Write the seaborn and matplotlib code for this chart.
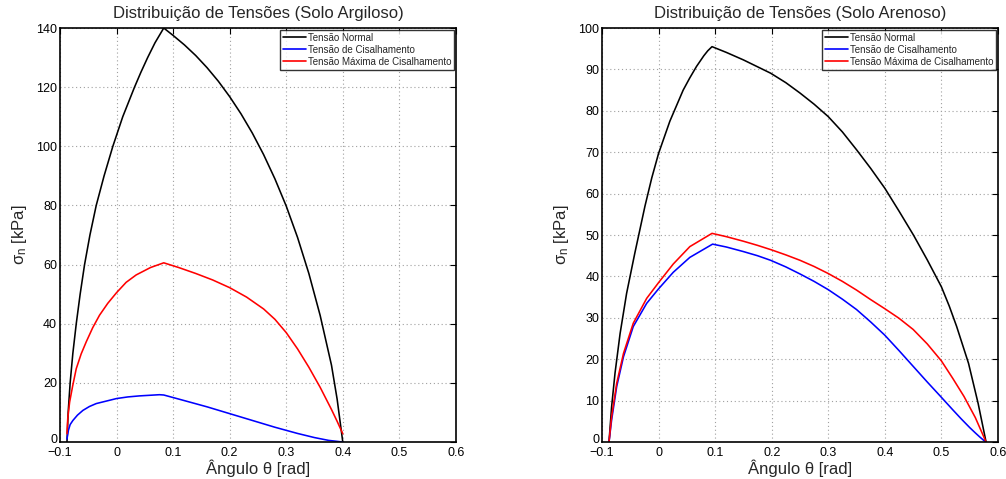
import numpy as np
import pandas as pd
import matplotlib
matplotlib.use("Agg")
import matplotlib.pyplot as plt
import matplotlib.transforms as mtransforms
import seaborn as sns

# ---------------- data ----------------
titles = ["Distribuição de Tensões (Solo Argiloso)", "Distribuição de Tensões (Solo Arenoso)"]
series_names = ["Tensão Normal", "Tensão de Cisalhamento", "Tensão Máxima de Cisalhamento"]
series_colors = ["#000000", "#0000ff", "#ff0000"]

# Solo Argiloso
arg_normal_x = [-0.0876, -0.0855, -0.082, -0.0772, -0.0712, -0.0643, -0.0565, -0.047, -0.0359, -0.022,
                -0.0065, 0.011, 0.0318, 0.043, 0.055, 0.068, 0.0835,
                0.10, 0.12, 0.14, 0.16, 0.18, 0.20, 0.22, 0.24, 0.26, 0.28, 0.30, 0.32, 0.34, 0.36,
                0.38, 0.39, 0.40]
arg_normal_y = [0, 10, 20, 30, 40, 50, 60, 70, 80, 90,
                100, 110, 120, 125, 130, 135, 140,
                137.5, 134.3, 130.7, 126.6, 122.0, 116.8, 111.0, 104.5, 97.2, 89.0, 79.8, 69.2, 57.0, 42.8,
                26.0, 14.5, 0]
arg_shear_x = [-0.0876, -0.085, -0.082, -0.0771, -0.069, -0.0594, -0.048, -0.0359, 0.0, 0.02, 0.0406,
               0.0759, 0.0835, 0.12, 0.16, 0.20, 0.24, 0.28, 0.32, 0.35, 0.375, 0.40]
arg_shear_y = [1.0, 4.0, 5.9, 7.3, 9.1, 10.7, 12.0, 13.0, 14.7, 15.25, 15.6,
               16.0, 15.9, 14.0, 11.9, 9.6, 7.3, 5.0, 2.9, 1.5, 0.55, 0]
arg_max_x = [-0.0876, -0.0862, -0.0829, -0.0775, -0.0712, -0.0625, -0.0535, -0.042, -0.030, -0.0155,
             0.0, 0.017, 0.0347, 0.06, 0.0835,
             0.11, 0.14, 0.17, 0.20, 0.23, 0.26, 0.28, 0.30, 0.32, 0.34, 0.36, 0.38, 0.39, 0.40]
arg_max_y = [2.8, 8.0, 13.5, 19.0, 24.8, 29.8, 33.9, 38.7, 42.9, 46.9,
             50.5, 54.0, 56.5, 59.0, 60.6,
             59.0, 57.0, 54.8, 52.2, 49.0, 45.0, 41.5, 37.0, 31.5, 25.3, 18.5, 11.0, 7.0, 2.8]

# Solo Arenoso
are_normal_x = [-0.0876, -0.083, -0.077, -0.068, -0.0565, -0.042, -0.024, -0.012, 0.0, 0.02, 0.0435,
                0.055, 0.067, 0.08, 0.087, 0.0945,
                0.12, 0.15, 0.198, 0.225, 0.25, 0.275, 0.30, 0.325, 0.35, 0.375, 0.40, 0.425, 0.4506,
                0.475, 0.50, 0.514, 0.527, 0.548, 0.565, 0.579]
are_normal_y = [0, 8.5, 16.6, 26.2, 35.9, 45.6, 57.0, 63.8, 69.7, 77.5, 85.0,
                87.9, 90.7, 93.3, 94.5, 95.5,
                94.1, 92.3, 89.1, 86.8, 84.3, 81.6, 78.6, 74.9, 70.6, 66.1, 61.3, 55.8, 50.0,
                44.0, 37.5, 32.8, 27.9, 19.0, 9.3, 0]
are_shear_x = [-0.0876, -0.083, -0.074, -0.062, -0.0447, -0.021, 0.0, 0.026, 0.0553, 0.0955,
               0.12, 0.15, 0.175, 0.198, 0.225, 0.25, 0.275, 0.30, 0.325, 0.35, 0.375, 0.40,
               0.425, 0.45, 0.475, 0.50, 0.52, 0.535, 0.55, 0.56, 0.568, 0.574, 0.579]
are_shear_y = [0, 5.3, 13.4, 20.6, 27.9, 33.5, 37.0, 41.0, 44.6, 47.8,
               47.1, 46.0, 45.0, 43.9, 42.3, 40.6, 38.8, 36.8, 34.5, 32.0, 29.0, 25.8,
               22.1, 18.3, 14.5, 10.8, 7.8, 5.6, 3.5, 2.2, 1.2, 0.5, 0]
are_max_x = [-0.0876, -0.083, -0.074, -0.062, -0.0447, -0.021, 0.0, 0.026, 0.0553, 0.0945,
             0.12, 0.15, 0.175, 0.20, 0.225, 0.25, 0.275, 0.30, 0.325, 0.35, 0.375, 0.40,
             0.425, 0.45, 0.475, 0.50, 0.52, 0.54, 0.56, 0.579]
are_max_y = [0, 6.1, 14.2, 21.4, 28.7, 34.7, 38.5, 43.0, 47.2, 50.4,
             49.6, 48.5, 47.5, 46.4, 45.2, 43.9, 42.4, 40.7, 38.8, 36.7, 34.4, 32.2,
             29.9, 27.2, 23.7, 19.6, 15.4, 11.0, 5.9, 0]

x_ticks = [-0.1, 0, 0.1, 0.2, 0.3, 0.4, 0.5, 0.6]
x_tick_labels = ["\u22120.1", "0", "0.1", "0.2", "0.3", "0.4", "0.5", "0.6"]
y_ticks_left = [0, 20, 40, 60, 80, 100, 120, 140]
y_ticks_right = [0, 10, 20, 30, 40, 50, 60, 70, 80, 90, 100]

xlabel = "Ângulo θ [rad]"
ylabel = r"$\sigma_{\mathrm{n}}$ [kPa]"


def make_df(xs, ys):
    rows = []
    for name, x, y in zip(series_names, xs, ys):
        for xi, yi in zip(x, y):
            rows.append({"x": xi, "y": yi, "serie": name})
    return pd.DataFrame(rows)


df_arg = make_df([arg_normal_x, arg_shear_x, arg_max_x], [arg_normal_y, arg_shear_y, arg_max_y])
df_are = make_df([are_normal_x, are_shear_x, are_max_x], [are_normal_y, are_shear_y, are_max_y])

# ---------------- style ----------------
sns.set_style("white")
plt.rcParams["font.family"] = ["Liberation Sans", "DejaVu Sans"]
plt.rcParams["mathtext.fontset"] = "custom"
plt.rcParams["mathtext.rm"] = "Liberation Sans"
plt.rcParams["mathtext.it"] = "Liberation Sans:italic"
plt.rcParams["mathtext.default"] = "regular"
plt.rcParams["axes.unicode_minus"] = True

fig = plt.figure(figsize=(10.06, 4.79), dpi=100)
ax1 = fig.add_axes([0.0596, 0.0772, 0.3936, 0.8643])
ax2 = fig.add_axes([0.5984, 0.0772, 0.3936, 0.8643])

palette = dict(zip(series_names, series_colors))

for ax, df, title, yt in [(ax1, df_arg, titles[0], y_ticks_left), (ax2, df_are, titles[1], y_ticks_right)]:
    sns.lineplot(data=df, x="x", y="y", hue="serie", hue_order=series_names, palette=palette,
                 sort=False, estimator=None, linewidth=1.15, ax=ax)
    ax.set_xlim(-0.1, 0.6)
    ax.set_ylim(yt[0], yt[-1])
    ax.set_xticks(x_ticks)
    ax.set_xticklabels(x_tick_labels)
    ax.set_yticks(yt)
    ax.set_yticklabels([str(v) for v in yt])
    ax.tick_params(direction="in", top=True, right=True, labelsize=9, length=4, width=0.8,
                   colors="black")
    ax.tick_params(axis="x", pad=3.5)
    ax.tick_params(axis="y", pad=2)
    # lift the bottom "0" slightly so it just sits above the "-0.1" label
    zero_lbl = ax.get_yticklabels()[0]
    zero_lbl.set_transform(zero_lbl.get_transform() +
                           mtransforms.ScaledTranslation(0, 2.5 / 72, fig.dpi_scale_trans))
    ax.grid(True, linestyle=(0, (1, 2.5)), color="#a0a0a0", linewidth=0.8)
    for s in ax.spines.values():
        s.set_color("black")
        s.set_linewidth(1.2)
    ax.set_title(title, fontsize=12, pad=7)
    ax.set_xlabel(xlabel, fontsize=12, labelpad=0.5)
    ax.set_ylabel(ylabel, fontsize=12, labelpad=5)
    leg = ax.legend(loc="upper right", fontsize=7, frameon=True, fancybox=False,
                    borderaxespad=0.2, handlelength=2.3, handletextpad=0.2,
                    borderpad=0.3, labelspacing=0.2)
    leg.get_frame().set_edgecolor("black")
    leg.get_frame().set_linewidth(1.0)
    for h in leg.get_lines():
        h.set_linewidth(1.2)

fig.savefig("out.png", dpi=100)
